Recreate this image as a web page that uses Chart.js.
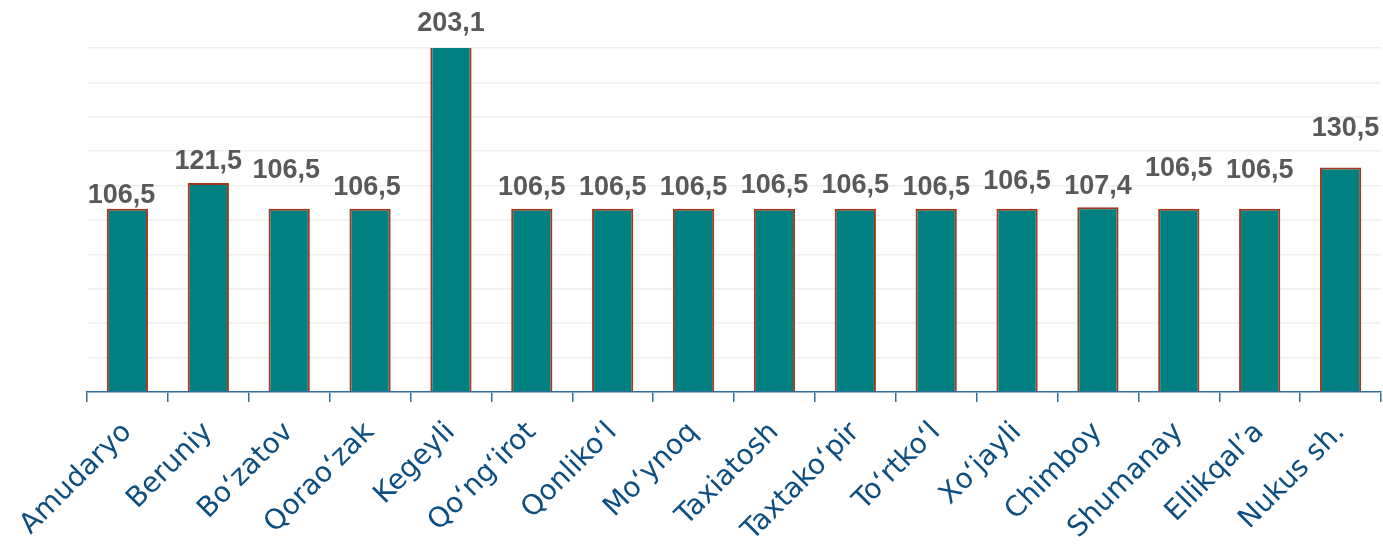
<!DOCTYPE html>
<html>
<head>
<meta charset="utf-8">
<script src="https://cdn.jsdelivr.net/npm/chart.js@4/dist/chart.umd.min.js"></script>
<style>
  html, body { margin: 0; padding: 0; background: #fff; }
  .wrap { width: 1383px; height: 550px; position: relative; }
</style>
</head>
<body>
<div class="wrap"><canvas id="c"></canvas></div>
<script>
// districts (x categories) and index values
var DISTRICTS = ['Amudaryo', 'Beruniy', 'Bo\u2018zatov', 'Qorao\u2018zak', 'Kegeyli', 'Qo\u2018ng\u2018irot', 'Qonliko\u2018l', 'Mo\u2018ynoq',
  'Taxiatosh', 'Taxtako\u2018pir', 'To\u2018rtko\u2018l', 'Xo\u2018jayli', 'Chimboy', 'Shumanay', 'Ellikqal\u2019a', 'Nukus sh.'];
var VALUES = [106.5, 121.5, 106.5, 106.5, 203.1, 106.5, 106.5, 106.5, 106.5, 106.5, 106.5, 106.5, 107.4, 106.5, 106.5, 130.5];
var Y_MAX = 200, Y_STEP = 20;

// hand-moved label nudges (dx, dy px) like in the source sheet
var NUDGE = [[-6, 8], [0, 0], [-3, -17], [-3, 0], [0, -3], [0, 0], [0, 0], [0, 0],
  [0, -2], [0, -2], [0, 0], [0, -6], [0, 0], [0, -19], [0, -17], [5, -18]];

var TEAL = '#008080', EDGE = '#A5361B', AXIS = '#2F6E9E', LBL = '#0D4E80';

function fmt(v) { return v.toFixed(1).replace('.', ','); }

var valueLabels = {
  id: 'valueLabels',
  afterDatasetsDraw: function (chart) {
    var ctx = chart.ctx, meta = chart.getDatasetMeta(0), top = chart.chartArea.top;
    ctx.save();
    ctx.font = 'bold 27px "Liberation Sans", Arial, sans-serif';
    ctx.fillStyle = '#595959';
    ctx.textAlign = 'center';
    ctx.textBaseline = 'middle';
    meta.data.forEach(function (bar, i) {
      var n = NUDGE[i] || [0, 0];
      var y = Math.max(bar.y, top);
      ctx.fillText(fmt(VALUES[i]), bar.x + n[0], y - 21 + n[1]);
    });
    ctx.restore();
  }
};

new Chart(document.getElementById('c'), {
  type: 'bar',
  data: {
    labels: DISTRICTS,
    datasets: [{
      data: VALUES,
      backgroundColor: TEAL,
      borderColor: EDGE,
      borderWidth: 2,
      barPercentage: 1,
      categoryPercentage: 0.51,
      clip: 0
    }]
  },
  options: {
    responsive: true,
    maintainAspectRatio: false,
    animation: false,
    layout: { padding: { top: 48, right: 2, left: 0, bottom: 0 } },
    plugins: { legend: { display: false }, tooltip: { enabled: false } },
    scales: {
      x: {
        grid: { display: true, drawOnChartArea: false, drawTicks: true, tickLength: 10, color: AXIS, lineWidth: 1.5 },
        border: { display: true, color: AXIS, width: 1.5 },
        ticks: {
          color: LBL, minRotation: 45, maxRotation: 45, padding: 14,
          font: { family: '"DejaVu Sans", sans-serif', size: 28 }
        },
        afterFit: function (s) { s.height = 158; }
      },
      y: {
        min: 0, max: Y_MAX,
        ticks: { display: false, stepSize: Y_STEP },
        grid: { color: '#EFEFEF', lineWidth: 1.5, drawTicks: false },
        border: { display: false },
        afterFit: function (s) { s.width = 87; }
      }
    }
  },
  plugins: [valueLabels]
});
</script>
</body>
</html>
